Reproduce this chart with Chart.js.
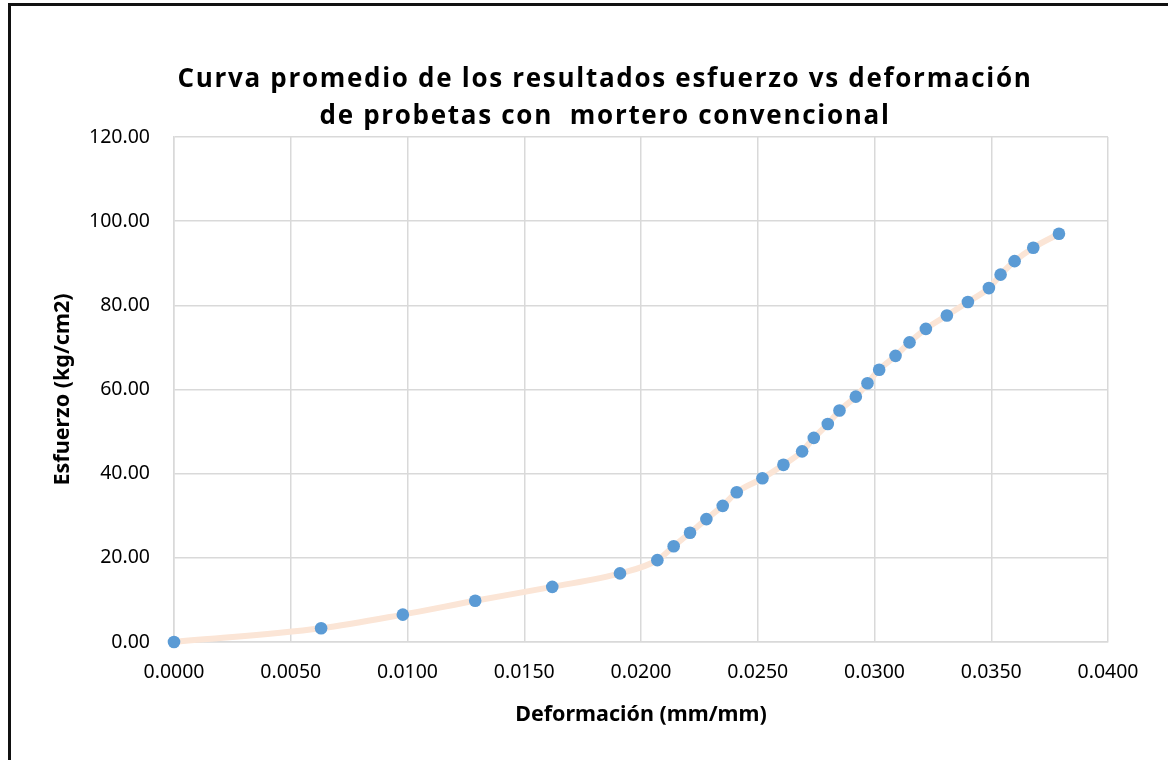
<!DOCTYPE html>
<html>
<head>
<meta charset="utf-8">
<script src="https://cdn.jsdelivr.net/npm/chart.js@4"></script>
<style>
  html, body { margin: 0; padding: 0; background: #fff; overflow: hidden; }
  #frame {
    position: absolute; left: 8px; top: 3px;
    width: 1200px; height: 800px;
    border: 3px solid #111;
  }
  #titulo {
    position: absolute; left: 105px; width: 1000px; top: 59px;
    text-align: center;
    font: bold 26px "Open Sans", sans-serif;
    letter-spacing: 1.7px;
    line-height: 37px;
    color: #000;
    white-space: pre;
  }
  #wrap { position: absolute; left: 0; top: 0; width: 1168px; height: 760px; }
</style>
</head>
<body>
<div id="frame"></div>
<div id="wrap"><canvas id="myChart" width="1168" height="760"></canvas></div>
<div id="titulo">Curva promedio de los resultados esfuerzo vs deformación
de probetas con  mortero convencional</div>
<script>
// deformación (mm/mm)
const deformacion = [
  0, 0.0063, 0.0098, 0.0129, 0.0162, 0.0191, 0.0207, 0.0214, 0.0221, 0.0228,
  0.0235, 0.0241, 0.0252, 0.0261, 0.0269, 0.0274, 0.0280, 0.0285, 0.0292, 0.0297,
  0.0302, 0.0309, 0.0315, 0.0322, 0.0331, 0.0340, 0.0349, 0.0354, 0.0360, 0.0368,
  0.0379
];
// esfuerzo (kg/cm2)
const esfuerzo = [
  0, 3.26, 6.5, 9.8, 13.1, 16.3, 19.45, 22.75, 25.95, 29.2,
  32.35, 35.6, 38.9, 42.1, 45.3, 48.5, 51.8, 55.0, 58.3, 61.5,
  64.7, 68.0, 71.2, 74.4, 77.6, 80.8, 84.1, 87.3, 90.5, 93.7,
  97.0
];
const xTicks = [0, 0.005, 0.01, 0.015, 0.02, 0.025, 0.03, 0.035, 0.04];
const yTicks = [0, 20, 40, 60, 80, 100, 120];

const puntos = deformacion.map((x, i) => ({ x: x, y: esfuerzo[i] }));

const tickFont = { family: '"Noto Sans", sans-serif', size: 19.5 };
const titleFont = { family: '"Noto Sans", sans-serif', size: 21.5, weight: 'bold' };
const gridColor = '#d9d9d9';

const config = {
  type: 'scatter',
  data: {
    datasets: [{
      label: 'Esfuerzo',
      data: puntos,
      showLine: true,
      clip: false,
      borderColor: '#fbe5d6',
      borderWidth: 6,
      cubicInterpolationMode: 'monotone',
      pointBackgroundColor: '#5b9bd5',
      pointBorderColor: '#5b9bd5',
      pointRadius: 6.3,
      pointBorderWidth: 0
    }]
  },
  options: {
    responsive: false,
    animation: false,
    layout: { padding: { left: 46, right: 60, top: 137, bottom: 28 } },
    plugins: {
      legend: { display: false },
      tooltip: { enabled: false }
    },
    scales: {
      x: {
        type: 'linear',
        min: 0, max: 0.04,
        afterBuildTicks: s => { s.ticks = xTicks.map(v => ({ value: v })); },
        afterFit: s => { s.height = 90; },
        grid: { color: gridColor, lineWidth: 1.5, drawTicks: false },
        border: { color: gridColor, width: 1.5 },
        ticks: {
          color: '#000', font: tickFont, padding: 19, maxRotation: 0,
          callback: v => v.toFixed(4)
        },
        title: {
          display: true, text: 'Deformación (mm/mm)', color: '#000',
          font: titleFont, padding: { top: 8 }
        }
      },
      y: {
        type: 'linear',
        min: 0, max: 120,
        afterBuildTicks: s => { s.ticks = yTicks.map(v => ({ value: v })); },
        afterFit: s => { s.width = 128; },
        grid: { color: gridColor, lineWidth: 1.5, drawTicks: false },
        border: { color: gridColor, width: 1.5 },
        ticks: {
          color: '#000', font: tickFont, padding: 24,
          callback: v => v.toFixed(2)
        },
        title: {
          display: true, text: 'Esfuerzo (kg/cm2)', color: '#000',
          font: titleFont, padding: { bottom: 10 }
        }
      }
    }
  }
};

const myChart = new Chart(document.getElementById('myChart'), config);
</script>
</body>
</html>
